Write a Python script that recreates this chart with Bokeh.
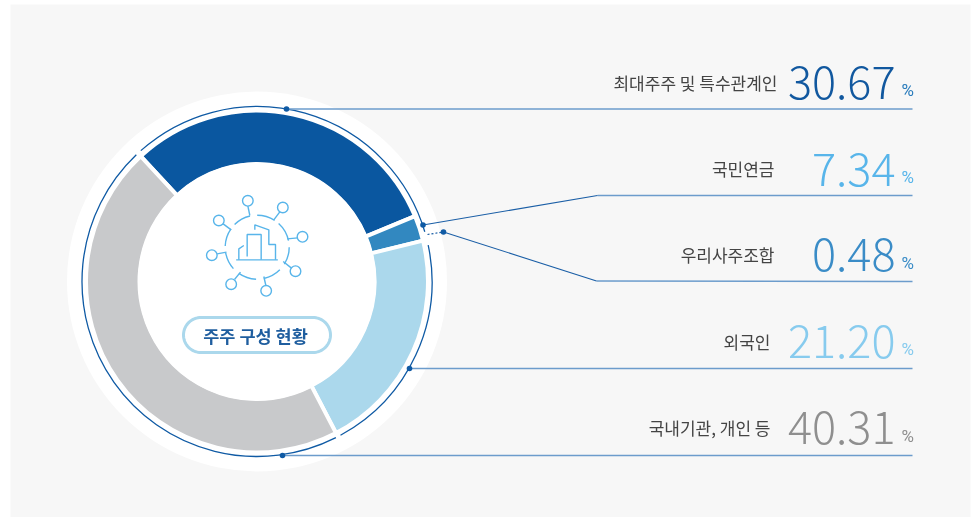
import math
from bokeh.plotting import figure
from bokeh.models import Range1d
from bokeh.core.properties import value
from bokeh.embed import file_html
from bokeh.resources import INLINE

# ---- data
labels = ["최대주주 및 특수관계인", "국민연금", "우리사주조합", "외국인", "국내기관, 개인 등"]
shares = [30.67, 7.34, 0.48, 21.20, 40.31]
share_colors = ["#11589f", "#58b5ea", "#3a8cc7", "#87cbee", "#8f8f8f"]
pct_colors = ["#2a7cbc", "#58b5ea", "#3a8cc7", "#87cbee", "#8f8f8f"]
# the ring as it is drawn in the picture (its arcs do not follow the printed figures)
ring_shares = [30.67, 2.40, 21.20, 45.73]
ring_colors = ["#0a57a0", "#3288c0", "#abd8ec", "#c8c9cb"]
title_text = "주주 구성 현황"

W, H = 977, 517
CX, CY = 256.5, 281.0
def Y(v): return H - v
def cw(a): return math.radians(90 - a)   # clockwise-from-top degrees -> math radians
def pt(r, a, cx=CX, cy=CY):
    t = math.radians(a)
    return cx + r * math.sin(t), cy - r * math.cos(t)

p = figure(width=W, height=H, x_range=Range1d(0, W), y_range=Range1d(0, H),
           toolbar_location=None, output_backend="svg", min_border=0,
           background_fill_color="white", border_fill_color="white",
           outline_line_color=None,
           styles={"position": "fixed", "left": "0", "top": "0"})
p.axis.visible = False
p.grid.visible = False

# panel
p.quad(left=[10], right=[970], bottom=[0], top=[Y(4)], fill_color="#f7f7f7", line_color=None)
# white halo
p.circle([CX], [Y(CY)], radius=190, fill_color="white", line_color=None)

# thin outer ring
BLUE = "#0f5aa4"
for a0, a1 in [(-41.6, 73.5), (78.0, 151.5), (153.2, 316.4)]:
    p.arc([CX], [Y(CY)], radius=175, start_angle=cw(a1), end_angle=cw(a0),
          line_color=BLUE, line_width=1.3)

# donut
a = -42.9
for s, c in zip(ring_shares, ring_colors):
    b = a + s * 3.6
    p.annular_wedge([CX], [Y(CY)], inner_radius=117.5, outer_radius=171,
                    start_angle=cw(b), end_angle=cw(a), fill_color=c,
                    line_color="white", line_width=4)
    a = b
p.circle([CX], [Y(CY)], radius=119, fill_color="white", line_color=None)

# leader lines
LEAD = "#6c9ccc"
for xs, ys in [([286, 912], [108.5, 108.5]), ([409, 912], [368, 368]), ([282, 912], [455, 455])]:
    p.line(xs, [Y(v) for v in ys], line_color=LEAD, line_width=1.5)
p.line([597, 912], [Y(195), Y(195)], line_color=LEAD, line_width=1.5)
p.line([596, 912], [Y(280.5), Y(281)], line_color=LEAD, line_width=1.5)
p.line([422.5, 597], [Y(224.5), Y(195)], line_color="#1a5ea6", line_width=1.1)
p.line([443, 596], [Y(231.5), Y(280.5)], line_color="#1a5ea6", line_width=1.1)
p.line([427, 443], [Y(234), Y(231.5)], line_color="#1a5ea6", line_width=1.2, line_dash="2 2")
p.circle([286, 409, 282, 422.5, 443], [Y(108.5), Y(368), Y(455), Y(224.5), Y(231.5)],
         radius=2.8, fill_color="#0f5aa4", line_color=None)

# icon
ICON = "#58b5ea"
ICX, ICY = 256.7, 246.7
def zp(x, y): return 190 + x / 3, Y(180 + y / 3)
for a0, a1 in [(-45, -13), (0, 33), (42, 78), (90, 122), (135, 168), (182, 215), (228, 260), (272, 305)]:
    p.arc([ICX], [Y(ICY)], radius=32, start_angle=cw(a1), end_angle=cw(a0),
          line_color=ICON, line_width=1.4)
stubs = [
    [(172, 76), (178, 105)], [(268, 94), (250, 118)], [(322, 172), (290, 175)],
    [(302, 262), (278, 243)], [(226, 315), (220, 288)], [(132, 297), (150, 275)],
    [(80, 220), (108, 215)], [(98, 130), (122, 148)],
    # buildings
    [(137, 238), (262, 238)],
    [(170, 228), (170, 162), (212, 162), (212, 238)],
    [(193, 148), (193, 133), (235, 148), (235, 192), (255, 192), (255, 238)],
    [(145, 238), (145, 205), (160, 195)],
]
for s in stubs:
    q = [zp(*v) for v in s]
    p.line([v[0] for v in q], [v[1] for v in q], line_color=ICON, line_width=1.4)
nodes = [(172, 61), (277, 81), (336, 169), (315, 272), (227, 331), (122, 311), (64, 224), (85, 120)]
q = [zp(*v) for v in nodes]
p.circle([v[0] for v in q], [v[1] for v in q], radius=5.3, fill_color="white",
         line_color=ICON, line_width=1.4)

# pill
L, R, T, B, r = 183, 330, 317, 352, 17.5
pts = []
for i in range(0, 37):
    pts.append(pt(r, i * 5, R - r, T + r))
for i in range(36, 73):
    pts.append(pt(r, i * 5, L + r, T + r))
p.patch([v[0] for v in pts], [Y(v[1]) for v in pts], fill_color="white",
        line_color="#abd8ec", line_width=3)
p.text([255], [Y(334.5)], text=[title_text], text_font=value("Noto Sans CJK KR"),
       text_font_style="bold", text_font_size="17.5px", text_color="#1f5e9f",
       text_align="center", text_baseline="middle")

# labels and figures
label_x = [777, 774, 774, 770, 770]
label_y = [82, 168, 254, 341, 427]
num_x = [895, 895, 895, 895, 895]
num_mid = [82, 168.5, 254, 341, 427]
pct_mid = [89.5, 176, 262, 348.5, 435]
for i in range(5):
    p.text([label_x[i]], [Y(label_y[i])], text=[labels[i]], text_font=value("Noto Sans CJK KR"),
           text_font_size="17px", text_color="#444444", text_align="right", text_baseline="middle")
    p.text([num_x[i]], [Y(num_mid[i])], text=[f"{shares[i]:.2f}"], text_font=value("Noto Sans CJK KR Light"),
           text_font_size="45px", text_color=share_colors[i], text_align="right",
           text_baseline="middle")
    p.text([913.5], [Y(pct_mid[i])], text=["%"], text_font=value("Roboto"),
           text_font_size="17px", text_color=pct_colors[i], text_align="right",
           text_baseline="middle")

open("out.html", "w").write(file_html(p, INLINE))
